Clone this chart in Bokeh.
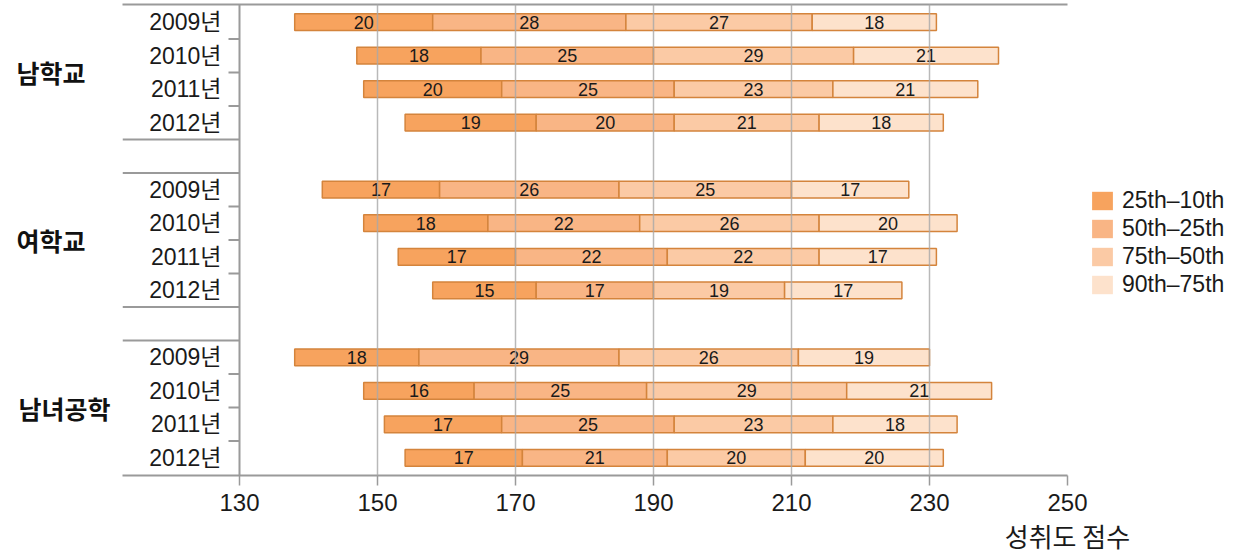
from bokeh.plotting import figure
from bokeh.models import (Range1d, FixedTicker, ColumnDataSource, Legend, LegendItem,
                          Span, LinearAxis)
from bokeh.embed import file_html
from bokeh.resources import INLINE
from bokeh.core.properties import value

# ---------------- data ----------------
groups = ["남학교", "여학교", "남녀공학"]
years = ["2009년", "2010년", "2011년", "2012년"]
series_names = ["25th–10th", "50th–25th", "75th–50th", "90th–75th"]
starts = [138, 147, 148, 154, 142, 148, 153, 158, 138, 148, 151, 154]
p25_10 = [20, 18, 20, 19, 17, 18, 17, 15, 18, 16, 17, 17]
p50_25 = [28, 25, 25, 20, 26, 22, 22, 17, 29, 25, 25, 21]
p75_50 = [27, 29, 23, 21, 25, 26, 22, 19, 26, 29, 23, 20]
p90_75 = [18, 21, 21, 18, 17, 20, 17, 17, 19, 21, 18, 20]
x_ticks = [130, 150, 170, 190, 210, 230, 250]
x_title = "성취도 점수"

# ---------------- styling ----------------
colors = ["#F7A35E", "#F9B585", "#FBCAA5", "#FDE2CC"]
edge = "#D4843C"
axis_gray = "#9A9A9A"
txt = "#1a1a1a"
LAT = "'Liberation Sans', 'Noto Sans CJK KR'"
KR = "'Noto Sans CJK KR', 'Liberation Sans'"

PX_X = 6.9          # px per score unit
PX_Y = 33.71        # px per row slot
X_MIN = 130 - 117 / PX_X
X_VIEW_MAX = 250 + 173 / PX_X
n_years = len(years)
slot = n_years + 1
n_slots = len(groups) * slot - 1
pad = 1 / PX_Y

rows_y = [g * slot + i + 0.5 for g in range(len(groups)) for i in range(n_years)]
row_labels = [y for g in groups for y in years]
group_centers = [g * slot + n_years / 2 for g in range(len(groups))]

p = figure(width=1240, height=556, output_backend="svg", toolbar_location=None,
           x_range=Range1d(X_MIN, X_VIEW_MAX), y_range=Range1d(n_slots + pad, -pad),
           min_border_left=122, min_border_right=0, min_border_top=4, min_border_bottom=78)
p.outline_line_color = None
p.background_fill_color = "white"

# grid
p.ygrid.grid_line_color = None
p.xgrid.ticker = FixedTicker(ticks=x_ticks[1:-1])
p.xgrid.grid_line_color = "#A8A8A8"
p.xgrid.grid_line_width = 1.5
p.xgrid.grid_line_alpha = 0.8
p.xgrid.level = "overlay"

# bottom axis
xa = p.xaxis[0]
xa.ticker = FixedTicker(ticks=x_ticks)
xa.bounds = (X_MIN, x_ticks[-1])
xa.axis_line_color = axis_gray
xa.axis_line_width = 2
xa.major_tick_line_color = axis_gray
xa.major_tick_line_width = 1.5
xa.major_tick_out = 10
xa.major_tick_in = 0
xa.minor_tick_line_color = None
xa.major_label_text_font = LAT
xa.major_label_text_font_size = "24px"
xa.major_label_text_color = txt
xa.major_label_standoff = 8

# axis title as a second label row under the 250 tick
xt = LinearAxis(ticker=FixedTicker(ticks=[x_ticks[-1]]),
                major_label_overrides={x_ticks[-1]: x_title},
                axis_line_color=None, major_tick_line_color=None, minor_tick_line_color=None,
                major_tick_out=0, major_tick_in=0, major_label_standoff=3,
                major_label_text_font=KR, major_label_text_font_size="26px",
                major_label_text_color=txt)
p.add_layout(xt, "below")

# top line
top = LinearAxis(ticker=FixedTicker(ticks=[]), bounds=(X_MIN, x_ticks[-1]),
                 axis_line_color=axis_gray, axis_line_width=2,
                 major_tick_line_color=None, minor_tick_line_color=None,
                 major_tick_out=0, major_tick_in=0, major_label_text_font_size="0px")
p.add_layout(top, "above")

# group labels on the left axis
ya = p.yaxis[0]
ya.ticker = FixedTicker(ticks=group_centers)
ya.major_label_overrides = {c: (n if len(n) >= 4 else n + "\u2003" * (4 - len(n)))
                            for c, n in zip(group_centers, groups)}
ya.axis_line_color = None
ya.major_tick_line_color = None
ya.minor_tick_line_color = None
ya.major_tick_out = 0
ya.major_tick_in = 0
ya.major_label_standoff = 12
ya.major_label_text_font = KR
ya.major_label_text_font_size = "25px"
ya.major_label_text_font_style = "bold"
ya.major_label_text_color = "#111"

# vertical axis line at 130
p.add_layout(Span(location=x_ticks[0], dimension="height", line_color=axis_gray, line_width=2))

# separators and small ticks on the left
sep_y, tick_y = [], []
for g in range(len(groups)):
    if g > 0:
        sep_y += [g * slot - 1, g * slot]
    tick_y += [g * slot + k for k in range(1, n_years)]
p.segment(x0=[X_MIN] * len(sep_y), x1=[x_ticks[0]] * len(sep_y), y0=sep_y, y1=sep_y,
          line_color=axis_gray, line_width=2)
p.segment(x0=[x_ticks[0] - 11 / PX_X] * len(tick_y), x1=[x_ticks[0]] * len(tick_y),
          y0=tick_y, y1=tick_y, line_color=axis_gray, line_width=2)

# year labels
p.text(x=[x_ticks[0]] * len(rows_y), y=rows_y, text=row_labels, x_offset=-18,
       text_align="right", text_baseline="middle", text_font=value(LAT),
       text_font_size="23px", text_color=txt)

# bars
series = [p25_10, p50_25, p75_50, p90_75]
lefts = list(starts)
items = []
for k, vals in enumerate(series):
    rights = [l + v for l, v in zip(lefts, vals)]
    src = ColumnDataSource(dict(y=rows_y, left=lefts, right=rights,
                                mid=[(l + r) / 2 for l, r in zip(lefts, rights)],
                                lab=[str(v) for v in vals]))
    p.hbar(y="y", left="left", right="right", height=0.5, source=src,
           fill_color=colors[k], line_color=edge, line_width=1.5)
    p.text(x="mid", y="y", text="lab", source=src, text_align="center", text_baseline="middle",
           text_font=value(LAT), text_font_size="18px", text_color=txt)
    swatch = p.hbar(y=[float("nan")], left=[float("nan")], right=[float("nan")], height=0.5,
                    fill_color=colors[k], line_color=None)
    items.append(LegendItem(label=series_names[k], renderers=[swatch]))
    lefts = rights

legend = Legend(items=items, location=(967, 177), margin=0, padding=0,
                glyph_width=26, glyph_height=23, label_standoff=7, spacing=1, label_height=23,
                label_text_font=LAT, label_text_font_size="23px", label_text_color=txt,
                border_line_color=None, background_fill_alpha=0)
p.add_layout(legend, "center")

open("out.html", "w").write(file_html(p, INLINE))
